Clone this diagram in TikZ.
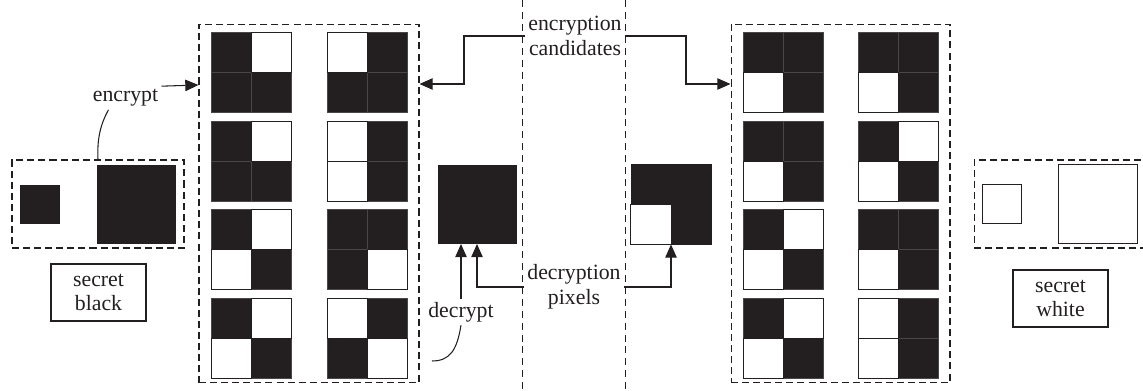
\documentclass[tikz,border=0pt]{standalone}
\usepackage{fontspec}
\setmainfont{Liberation Serif}
\usetikzlibrary{arrows.meta,calc}
\definecolor{ink}{HTML}{231F20}

% one 2x2 share tile: top-left corner (#1,#2), then the styles of the
% top-left, top-right, bottom-left and bottom-right subpixels
\newcommand\sharetile[6]{%
  \path[#3] (#1,#2) rectangle ++(40,40);
  \path[#4] (#1+40,#2) rectangle ++(40,40);
  \path[#5] (#1,#2+40) rectangle ++(40,40);
  \path[#6] (#1+40,#2+40) rectangle ++(40,40);
  \path[#3 edge] (#1,#2) rectangle ++(40,40);
  \path[#4 edge] (#1+40,#2) rectangle ++(40,40);
  \path[#5 edge] (#1,#2+40) rectangle ++(40,40);
  \path[#6 edge] (#1+40,#2+40) rectangle ++(40,40);
}

\begin{document}
\begin{tikzpicture}[x=0.02cm,y=-0.02cm,
  lbl/.style={font=\fontsize{12.4pt}{14.2pt}\selectfont, align=center,
    inner sep=1.7pt, text=ink},
  lblbox/.style={lbl, draw=ink, line width=0.6pt,
    minimum width=1.9cm, minimum height=1.14cm},
  grp/.style={draw=ink, line width=0.6pt, dash pattern=on 4pt off 2.3pt,
    inner sep=0pt},
  sep/.style={draw=ink, line width=0.4pt, dash pattern=on 4pt off 2.8pt},
  conn/.style={draw=ink, line width=0.6pt},
  arr/.style={conn, -{Triangle[length=7.5pt,width=6.5pt]}},
  blk/.style={fill=ink, draw=ink, line width=0.5pt, inner sep=0pt},
  wht/.style={fill=white, draw=ink, line width=0.6pt, inner sep=0pt},
  pb/.style={fill=ink, draw=ink!82, line width=0.4pt},
  pw/.style={fill=white},
  pb edge/.style={},
  pw edge/.style={draw=ink, line width=0.55pt},
]
\useasboundingbox (0,0) rectangle (1143,391);

% separators of the middle column
\draw[sep] (522,0) -- (522,391);
\draw[sep] (625,0) -- (625,391);

% secret black pixel
\node[grp, minimum width=3.44cm, minimum height=1.76cm] (lsec) at (98,204) {};
\node[blk, minimum size=0.77cm] (lsmall) at (40,204.5) {};
\node[blk, minimum size=1.56cm] (lbig) at (136,204.5) {};
\node[lblbox] (lname) at (98.5,292.5) {secret\\black};

% secret white pixel (its box runs past the right edge)
\node[grp, minimum width=3.56cm, minimum height=1.76cm] (rsec) at (1063,204) {};
\node[wht, minimum size=0.79cm] (rsmall) at (1002,204) {};
\node[wht, minimum size=1.59cm] (rbig) at (1098,204) {};
\node[lblbox] (rname) at (1060.5,298.5) {secret\\white};

% candidate groups
\node[grp, minimum width=4.4cm, minimum height=7.18cm] (lgrp) at (309,203.5) {};
\node[grp, minimum width=4.38cm, minimum height=7.18cm] (rgrp) at (840.5,203.5) {};

% shares for the black pixel
\sharetile{211}{32}{pb}{pw}{pb}{pb}
\sharetile{327}{32}{pw}{pb}{pb}{pb}
\sharetile{211}{121}{pb}{pw}{pb}{pb}
\sharetile{327}{121}{pw}{pb}{pw}{pb}
\sharetile{211}{209}{pb}{pw}{pw}{pb}
\sharetile{327}{209}{pb}{pb}{pb}{pw}
\sharetile{211}{298}{pb}{pw}{pw}{pb}
\sharetile{327}{298}{pw}{pb}{pb}{pw}

% shares for the white pixel
\sharetile{743}{32}{pb}{pb}{pw}{pb}
\sharetile{858}{32}{pb}{pb}{pw}{pb}
\sharetile{743}{121}{pb}{pb}{pw}{pb}
\sharetile{858}{121}{pb}{pw}{pw}{pb}
\sharetile{743}{209}{pb}{pw}{pw}{pb}
\sharetile{858}{209}{pb}{pb}{pw}{pb}
\sharetile{743}{298}{pb}{pw}{pw}{pb}
\sharetile{858}{298}{pw}{pb}{pw}{pb}

% decrypted pixels
\node[blk, minimum size=1.56cm] (cb) at (477,204.5) {};
\node[blk, minimum size=1.6cm] (cw) at (671,204) {};
\filldraw[fill=white, draw=ink, line width=0.55pt] (cw.west) rectangle (cw.south);

% labels
\node[lbl] (enc) at (575,36) {encryption\\candidates};
\node[lbl] (dec) at (574,287) {decryption\\pixels};
\node[lbl] (encl) at (125.5,98) {encrypt};
\node[lbl] (decl) at (461,312) {decrypt};

% connectors
\coordinate (yTop) at (0,84);
\coordinate (yEnc) at (0,85);
\coordinate (dcEnd) at (432,361);
\draw[arr] (enc.west) -| (464,84) -- (lgrp.east |- yTop);
\draw[arr] (enc.east) -| (686,84) -- (rgrp.west |- yTop);
\draw[arr] (dec.west) -| (cb.south);
\draw[arr] (dec.east) -| (cw.south);
\draw[arr] (decl.north) -- (decl.north |- cb.south);
\draw[arr] (encl.north east) -- (lgrp.west |- yEnc);
\draw[conn] ($(encl.south)+(-17,0)$) .. controls (100,125) and (97,140) .. (lsec.north);
\draw[conn] (decl.south) .. controls (457,350) and (450,361) .. (dcEnd);
\end{tikzpicture}
\end{document}
